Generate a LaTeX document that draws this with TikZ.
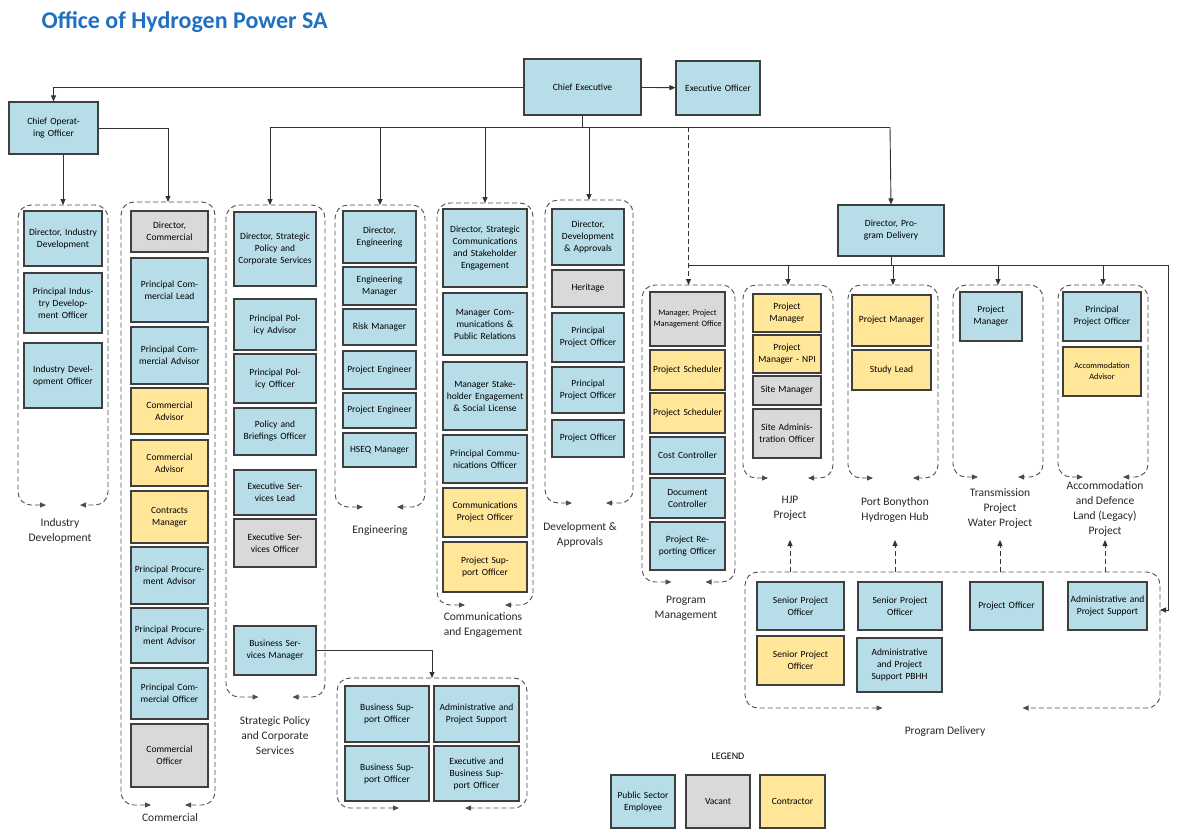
\documentclass[tikz,border=0pt]{standalone}
\usepackage{fontspec}
\setmainfont{Carlito}
\usetikzlibrary{arrows.meta}
\definecolor{blu}{HTML}{B7DEE8}
\definecolor{gry}{HTML}{D9D9D9}
\definecolor{ylw}{HTML}{FFE699}
\definecolor{edge}{HTML}{3F3F3F}
\definecolor{ttl}{HTML}{1F70C1}
\tikzset{
  box/.style={draw=edge,line width=1.1pt,align=center,inner sep=1pt,font=\fontsize{9.5}{12}\selectfont},
  sm/.style={font=\fontsize{8.3}{11}\selectfont},
  lbl/.style={align=center,font=\fontsize{11.5}{15}\selectfont,text=black!85},
  line/.style={draw=black!80,line width=0.9pt},
  arr/.style={line,-{Triangle[length=6pt,width=5pt]}},
  darr/.style={arr,dash pattern=on 5pt off 3pt},
  grpline/.style={draw=black!70,line width=0.9pt,dash pattern=on 5pt off 3pt,rounded corners=13pt,
    {Triangle[length=6pt,width=5pt]}-{Triangle[length=6pt,width=5pt]}}
}
% box: [options] name, colour, x1, y1, x2, y2, text
\newcommand\bx[8][]{%
  \pgfmathsetmacro\bw{#6-#4}\pgfmathsetmacro\bh{#7-#5}\pgfmathsetmacro\tw{#6-#4-5}%
  \node[box,fill=#3,#1,minimum width=\bw pt,minimum height=\bh pt,text width=\tw pt]
    (#2) at ({(#4+#6)/2},{(#5+#7)/2}) {#8};}
% group: name, left, top, right, bottom, half gap
\newcommand\grp[6]{%
  \pgfmathsetmacro\gc{(#2+#4)/2}%
  \draw[grpline] ({\gc-#6},#5) -- (#2,#5) -- (#2,#3) -- (#4,#3) -- (#4,#5) -- ({\gc+#6},#5);
  \coordinate (#1) at (\gc,#3);}
\begin{document}
\begin{tikzpicture}[x=1pt,y=-1pt]
\useasboundingbox (0,0) rectangle (1190,836);
\node[anchor=west,text=ttl,font=\fontsize{24}{28}\selectfont\bfseries] (title) at (38,22) {Office of Hydrogen Power SA};

% top level
\bx{ce}{blu}{524}{59}{641}{115}{Chief Executive}
\bx{eo}{blu}{676}{61}{760}{115}{Executive Officer}
\bx{coo}{blu}{9}{102}{98}{154}{Chief Operating Officer}
\bx{pd}{blu}{838}{205}{944}{256}{Director, Program Delivery}

% groups
\grp{gID}{18}{205}{108}{505}{17}
\grp{gCO}{121}{202}{215}{805}{17}
\grp{gSP}{226}{205}{325}{697}{17}
\grp{gBS}{337}{678}{527}{808}{33}
\grp{gEN}{335}{205}{425}{507}{17}
\grp{gCM}{437}{203}{533}{605}{20}
\grp{gDA}{545}{200}{633}{503}{17}
\grp{gPM}{642}{285}{735}{582}{17}
\grp{gHJ}{743}{285}{833}{478}{20}
\grp{gPB}{848}{285}{938}{478}{20}
\grp{gTR}{953}{285}{1043}{477}{20}
\grp{gAC}{1058}{285}{1148}{477}{20}
\grp{gPD}{745}{572}{1160}{708}{70}

% Industry Development
\bx{id1}{blu}{24}{211}{102}{266}{Director, Industry Development}
\bx{id2}{blu}{24}{273}{102}{333}{Principal Industry Development Officer}
\bx{id3}{blu}{24}{343}{102}{408}{Industry Development Officer}
% Commercial
\bx{co1}{gry}{131}{211}{208}{252}{Director, Commercial}
\bx{co2}{blu}{131}{258}{208}{322}{Principal Commercial Lead}
\bx{co3}{blu}{131}{327}{208}{384}{Principal Commercial Advisor}
\bx{co4}{ylw}{131}{388}{208}{434}{Commercial Advisor}
\bx{co5}{ylw}{131}{440}{208}{486}{Commercial Advisor}
\bx{co6}{ylw}{131}{491}{208}{543}{Contracts Manager}
\bx{co7}{blu}{131}{547}{208}{604}{Principal Procurement Advisor}
\bx{co8}{blu}{131}{608}{208}{663}{Principal Procurement Advisor}
\bx{co9}{blu}{131}{668}{208}{719}{Principal Commercial Officer}
\bx{co10}{gry}{131}{724}{208}{787}{Commercial Officer}
% Strategic Policy
\bx{sp1}{blu}{234}{212}{316}{286}{Director, Strategic Policy and Corporate Services}
\bx{sp2}{blu}{234}{299}{316}{350}{Principal Policy Advisor}
\bx{sp3}{blu}{234}{354}{316}{403}{Principal Policy Officer}
\bx{sp4}{blu}{234}{408}{316}{455}{Policy and Briefings Officer}
\bx{sp5}{blu}{234}{470}{316}{515}{Executive Services Lead}
\bx{sp6}{gry}{234}{519}{316}{567}{Executive Services Officer}
\bx{sp7}{blu}{234}{626}{316}{675}{Business Services Manager}
\bx{bs1}{blu}{345}{686}{429}{742}{Business Support Officer}
\bx{bs2}{blu}{434}{686}{519}{742}{Administrative and Project Support}
\bx{bs3}{blu}{345}{746}{429}{801}{Business Support Officer}
\bx{bs4}{blu}{434}{746}{519}{801}{Executive and Business Support Officer}
% Engineering
\bx{en1}{blu}{343}{211}{416}{263}{Director, Engineering}
\bx{en2}{blu}{343}{267}{416}{305}{Engineering Manager}
\bx{en3}{blu}{343}{309}{416}{345}{Risk Manager}
\bx{en4}{blu}{343}{351}{416}{389}{Project Engineer}
\bx{en5}{blu}{343}{393}{416}{428}{Project Engineer}
\bx{en6}{blu}{343}{433}{416}{467}{HSEQ Manager}
% Communications
\bx{cm1}{blu}{443}{209}{527}{287}{Director, Strategic Communications and Stakeholder Engagement}
\bx{cm2}{blu}{443}{293}{527}{355}{Manager Communications \& Public Relations}
\bx{cm3}{blu}{443}{362}{527}{430}{Manager Stakeholder Engagement \& Social License}
\bx{cm4}{blu}{443}{435}{527}{483}{Principal Communications Officer}
\bx{cm5}{ylw}{443}{488}{527}{537}{Communications Project Officer}
\bx{cm6}{ylw}{443}{542}{527}{592}{Project Support Officer}
% Development & Approvals
\bx{da1}{blu}{552}{209}{624}{265}{Director, Development \& Approvals}
\bx{da2}{gry}{552}{270}{624}{307}{Heritage}
\bx{da3}{blu}{552}{313}{624}{362}{Principal Project Officer}
\bx{da4}{blu}{552}{367}{624}{413}{Principal Project Officer}
\bx{da5}{blu}{552}{420}{624}{457}{Project Officer}
% Program Management
\bx[sm]{pm1}{gry}{650}{292}{725}{346}{Manager, Project Management Office}
\bx{pm2}{ylw}{650}{350}{725}{390}{Project Scheduler}
\bx{pm3}{ylw}{650}{393}{725}{433}{Project Scheduler}
\bx{pm4}{blu}{650}{437}{725}{474}{Cost Controller}
\bx{pm5}{blu}{650}{478}{725}{518}{Document Controller}
\bx{pm6}{blu}{650}{522}{725}{570}{Project Reporting Officer}
% HJP
\bx{hj1}{ylw}{753}{294}{821}{332}{Project Manager}
\bx{hj2}{ylw}{753}{335}{821}{373}{Project Manager - NPI}
\bx{hj3}{gry}{753}{376}{821}{405}{Site Manager}
\bx{hj4}{gry}{753}{409}{821}{458}{Site Administration Officer}
% Port Bonython
\bx{pb1}{ylw}{852}{295}{931}{346}{Project Manager}
\bx{pb2}{ylw}{852}{350}{931}{390}{Study Lead}
% Transmission
\bx{tr1}{blu}{960}{292}{1022}{341}{Project Manager}
% Accommodation
\bx{ac1}{blu}{1063}{292}{1141}{341}{Principal Project Officer}
\bx[sm]{ac2}{ylw}{1063}{347}{1141}{396}{Accommodation Advisor}
% Program Delivery
\bx{pd1}{blu}{757}{582}{844}{630}{Senior Project Officer}
\bx{pd2}{ylw}{757}{636}{844}{685}{Senior Project Officer}
\bx{pd3}{blu}{858}{582}{942}{630}{Senior Project Officer}
\bx{pd4}{blu}{857}{638}{942}{692}{Administrative and Project Support PBHH}
\bx{pd5}{blu}{970}{582}{1043}{630}{Project Officer}
\bx{pd6}{blu}{1068}{582}{1147}{630}{Administrative and Project Support}

% group labels
\node[lbl] (lID) at (60,531) {Industry\\Development};
\node[lbl] (lCO) at (170,818) {Commercial};
\node[lbl] (lSP) at (275,736) {Strategic Policy\\and Corporate\\Services};
\node[lbl] (lEN) at (380,531) {Engineering};
\node[lbl] (lCM) at (483,625) {Communications\\and Engagement};
\node[lbl] (lDA) at (580,535) {Development \&\\Approvals};
\node[lbl] (lPM) at (686,608) {Program\\Management};
\node[lbl] (lHJ) at (790,508) {HJP\\Project};
\node[lbl] (lPB) at (895,510) {Port Bonython\\Hydrogen Hub};
\node[lbl] (lTR) at (1000,509) {Transmission\\Project\\Water Project};
\node[lbl] (lAC) at (1105,509) {Accommodation\\and Defence\\Land (Legacy)\\Project};
\node[lbl] (lPD) at (945,731) {Program Delivery};

% connectors
\coordinate (busL) at (270,127);
\coordinate (busR) at (890,127);
\coordinate (pdL) at (688,265);
\coordinate (pdR) at (1168,265);
\draw[arr] (ce) -- (eo);
\draw[arr] (ce.west) -| (coo.north);
\draw[arr] (coo.east) -| (gCO);
\draw[arr] (gID |- coo.south) -- (gID);
\draw[line] (ce.south) -- (ce.south |- busL);
\draw[line] (busL) -- (busR);
\foreach \g in {gEN,gCM,gDA}
  \draw[arr] (\g |- busL) -- (\g);
\draw[arr] (busL) -- (busL |- gSP);
\draw[arr] (busR) -- (pd.north);
\draw[darr] (gPM |- busL) -- (gPM);
\draw[line] (pd.south) -- (pd.south |- pdL);
\draw[line] (pdL) -- (pdR);
\foreach \g in {gHJ,gPB,gTR,gAC}
  \draw[arr] (\g |- pdL) -- (\g);
\coordinate (pdE) at (1160,610);
\draw[arr] (pdR) |- (pdE);
\draw[arr] (sp7.east) -| (gBS);
\foreach \l in {lHJ,lPB,lTR,lAC}
  \draw[darr] (\l.south |- gPD) -- ++(0,-32);

% legend
\node[font=\fontsize{10}{12}\selectfont] (leg) at (728,756) {LEGEND};
\bx{lg1}{blu}{611}{775}{675}{828}{Public Sector Employee}
\bx{lg2}{gry}{686}{775}{750}{828}{Vacant}
\bx{lg3}{ylw}{760}{775}{825}{828}{Contractor}
\end{tikzpicture}
\end{document}
